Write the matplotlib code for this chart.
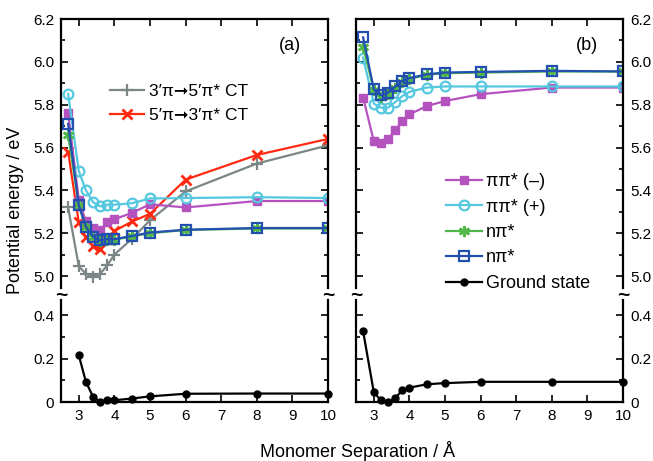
import matplotlib
matplotlib.use('Agg')
import matplotlib.pyplot as plt
from matplotlib.lines import Line2D
from matplotlib.ticker import MultipleLocator

plt.rcParams['font.family'] = ['Liberation Sans', 'DejaVu Sans']

# separations (Angstrom)
sep = [2.7, 3.0, 3.2, 3.4, 3.6, 3.8, 4.0, 4.5, 5.0, 6.0, 8.0, 10.0]

# panel (a)
ct_35_a = [5.32, 5.045, 5.01, 4.997, 5.01, 5.05, 5.10, 5.175, 5.26, 5.395, 5.525, 5.61]
ct_53_a = [5.58, 5.25, 5.18, 5.14, 5.125, 5.175, 5.21, 5.255, 5.29, 5.45, 5.565, 5.64]
pipi_minus_a = [5.76, 5.355, 5.255, 5.225, 5.215, 5.25, 5.265, 5.295, 5.335, 5.32, 5.35, 5.35]
pipi_plus_a = [5.85, 5.49, 5.40, 5.345, 5.325, 5.333, 5.333, 5.34, 5.362, 5.364, 5.368, 5.364]
npi1_a = [5.66, 5.33, 5.23, 5.18, 5.165, 5.17, 5.17, 5.185, 5.20, 5.215, 5.222, 5.222]
npi2_a = [5.71, 5.33, 5.23, 5.184, 5.166, 5.172, 5.172, 5.187, 5.203, 5.216, 5.224, 5.224]
ground_a = [0.215, 0.093, 0.024, 0.0, 0.011, 0.008, 0.016, 0.026, 0.038, 0.039, 0.039]

# panel (b)
pipi_minus_b = [5.833, 5.63, 5.619, 5.64, 5.68, 5.723, 5.755, 5.794, 5.817, 5.849, 5.88, 5.88]
pipi_plus_b = [6.02, 5.805, 5.786, 5.786, 5.812, 5.84, 5.86, 5.88, 5.885, 5.885, 5.885, 5.885]
npi1_b = [6.07, 5.87, 5.838, 5.85, 5.88, 5.905, 5.92, 5.94, 5.947, 5.95, 5.955, 5.955]
npi2_b = [6.114, 5.872, 5.844, 5.856, 5.885, 5.911, 5.924, 5.942, 5.95, 5.953, 5.958, 5.955]
ground_b = [0.326, 0.045, 0.008, 0.0, 0.019, 0.053, 0.066, 0.082, 0.087, 0.093, 0.093, 0.093]

GRAY = '#7d8686'
RED = '#ff2a12'
CYAN = '#55c8e0'
MAG = '#b452be'
GREEN = '#4fb848'
BLUE = '#2350b0'

W, H = 653, 461
fig = plt.figure(figsize=(W / 100, H / 100), dpi=100)


def rect(x0, x1, ytop, ybot):
    return [x0 / W, (H - ybot) / H, (x1 - x0) / W, (ybot - ytop) / H]


ax_a_up = fig.add_axes(rect(61, 328, 19, 288))
ax_a_lo = fig.add_axes(rect(61, 328, 300, 402))
ax_b_up = fig.add_axes(rect(356, 623, 19, 288))
ax_b_lo = fig.add_axes(rect(356, 623, 300, 402))

lw = 1.6
st_minus = dict(color=MAG, marker='s', ms=6, lw=lw)
st_plus = dict(color=CYAN, marker='o', ms=7, mfc='none', mew=1.6, lw=lw)
st_npi1 = dict(color=GREEN, marker=(6, 2, 0), ms=8, mew=1.8, lw=lw)
st_npi2 = dict(color=BLUE, marker='s', ms=7, mfc='none', mew=1.6, lw=lw)
st_gs = dict(color='black', marker='o', ms=5, lw=lw)
st_35 = dict(color=GRAY, marker='+', ms=9, mew=1.6, lw=lw)
st_53 = dict(color=RED, marker='x', ms=7, mew=2, lw=lw)

# panel (a)
ax_a_up.plot(sep, ct_35_a, **st_35)
ax_a_up.plot(sep, ct_53_a, **st_53)
ax_a_up.plot(sep, pipi_minus_a, **st_minus)
ax_a_up.plot(sep, pipi_plus_a, **st_plus)
ax_a_up.plot(sep, npi1_a, **st_npi1)
ax_a_up.plot(sep, npi2_a, **st_npi2)
ax_a_lo.plot(sep[1:], ground_a, clip_on=False, **st_gs)

# panel (b)
ax_b_up.plot(sep, pipi_minus_b, **st_minus)
ax_b_up.plot(sep, pipi_plus_b, **st_plus)
ax_b_up.plot(sep, npi1_b, **st_npi1)
ax_b_up.plot(sep, npi2_b, **st_npi2)
ax_b_lo.plot(sep, ground_b, clip_on=False, **st_gs)

for ax in (ax_a_up, ax_b_up):
    ax.set_xlim(2.5, 10)
    ax.set_ylim(4.944, 6.2)
    ax.yaxis.set_major_locator(MultipleLocator(0.2))
    ax.yaxis.set_minor_locator(MultipleLocator(0.1))
    ax.xaxis.set_major_locator(MultipleLocator(1))
    ax.spines['bottom'].set_visible(False)
    ax.tick_params(axis='x', which='both', bottom=False, labelbottom=False, top=True)

for ax in (ax_a_lo, ax_b_lo):
    ax.set_xlim(2.5, 10)
    ax.set_ylim(0, 0.47)
    ax.yaxis.set_major_locator(MultipleLocator(0.2))
    ax.yaxis.set_minor_locator(MultipleLocator(0.1))
    ax.xaxis.set_major_locator(MultipleLocator(1))
    ax.set_xticks(range(3, 11))
    ax.set_yticks([0, 0.2, 0.4])
    ax.set_yticklabels(['0', '0.2', '0.4'])
    ax.spines['top'].set_visible(False)
    ax.tick_params(axis='x', which='both', top=False)

for ax in (ax_a_up, ax_a_lo, ax_b_up, ax_b_lo):
    for s in ax.spines.values():
        s.set_linewidth(1.6)
    ax.tick_params(which='both', direction='in', left=True, right=True, width=1.2, labelsize=11, pad=5)
    ax.tick_params(which='major', length=5)
    ax.tick_params(which='minor', length=3)

for ax in (ax_b_up, ax_b_lo):
    ax.tick_params(axis='y', labelleft=False, labelright=True)

# break marks
for xp in (61, 328, 356, 623):
    fig.text(xp / W, (H - 295) / H, '~', ha='center', va='center', fontsize=15, fontweight='bold')

ax_a_up.text(0.858, 0.9, '(a)', transform=ax_a_up.transAxes, ha='center', va='center', fontsize=13)
ax_b_up.text(0.865, 0.9, '(b)', transform=ax_b_up.transAxes, ha='center', va='center', fontsize=13)

h_a = [Line2D([], [], **st_35), Line2D([], [], **st_53)]
ax_a_up.legend(h_a, ['3\u2032\u03c0\u279e5\u2032\u03c0* CT', '5\u2032\u03c0\u279e3\u2032\u03c0* CT'],
               loc='upper left', bbox_to_anchor=(0.15, 0.79), frameon=False, fontsize=12.5,
               handlelength=2.0, handletextpad=0.25, labelspacing=0.5, borderpad=0)

h_b = [Line2D([], [], **st_minus), Line2D([], [], **st_plus), Line2D([], [], **st_npi1),
       Line2D([], [], **st_npi2), Line2D([], [], **st_gs)]
ax_b_up.legend(h_b, ['\u03c0\u03c0* (\u2013)', '\u03c0\u03c0* (+)', 'n\u03c0*', 'n\u03c0*', 'Ground state'],
               loc='upper left', bbox_to_anchor=(0.303, 0.461), frameon=False, fontsize=13,
               handlelength=2.0, handletextpad=0.2, labelspacing=0.47, borderpad=0)

fig.text(16 / W, (H - 210) / H, 'Potential energy / eV', rotation=90, ha='center', va='center', fontsize=13)
fig.text(358 / W, (H - 451) / H, 'Monomer Separation / \u00c5', ha='center', va='center', fontsize=13)

fig.savefig('out.png', dpi=100)
